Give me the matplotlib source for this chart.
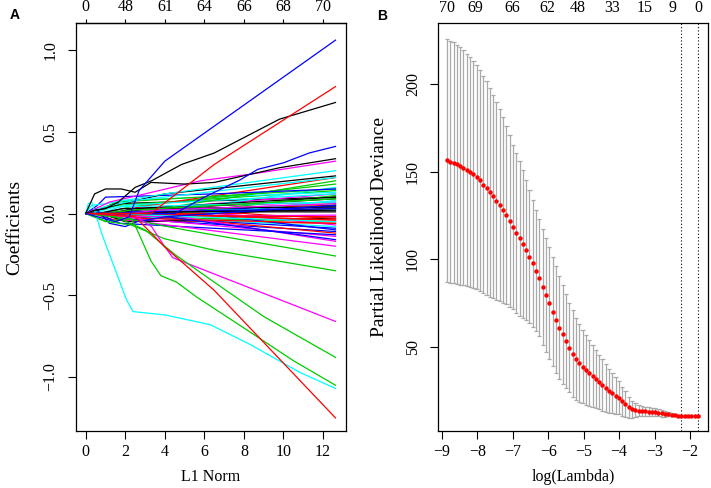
import matplotlib.pyplot as plt

# ============ Palette (R default) ============
R_COLS = {'black': '#000000', 'red': '#FF0000', 'green': '#00CD00',
          'blue': '#0000FF', 'cyan': '#00FFFF', 'magenta': '#FF00FF'}
CYCLE = ['black', 'red', 'green', 'blue', 'cyan', 'magenta']

# ============ Panel A data: coefficient paths ============
l1_max = 12.63
l1_ticks = [0, 2, 4, 6, 8, 10, 12]
df_labels = ['0', '48', '61', '64', '66', '68', '70']

# prominent paths: knots (L1 norm, coefficient)
blue_top_x = [0, 1.5, 2.2, 2.7, 4.0, 12.63]
blue_top_y = [0, -0.05, -0.02, 0.14, 0.32, 1.06]
red_top_x = [0, 3.3, 6.5, 12.63]
red_top_y = [0, 0.0, 0.30, 0.776]
black_top_x = [0, 0.45, 1.0, 1.65, 2.5, 3.33, 4.85, 6.5, 9.8, 12.63]
black_top_y = [0, 0.02, 0.03, 0.07, 0.16, 0.20, 0.30, 0.37, 0.577, 0.679]
black_mid_x = [0, 0.45, 1.0, 1.8, 2.5, 3.3, 5.0, 6.5, 9.8, 12.63]
black_mid_y = [0, 0.12, 0.15, 0.15, 0.13, 0.19, 0.18, 0.19, 0.28, 0.335]
blue_mid_x = [0, 4.5, 6.0, 7.8, 8.7, 10.0, 11.3, 12.63]
blue_mid_y = [0, 0, 0.10, 0.205, 0.27, 0.31, 0.37, 0.41]
magenta_pos_x = [0, 1.2, 3.0, 5.8, 8.3, 12.63]
magenta_pos_y = [0, 0.07, 0.12, 0.20, 0.24, 0.32]
cyan_pos_x = [0, 0.3, 1.0, 4.0, 12.63]
cyan_pos_y = [0, 0.05, 0.06, 0.12, 0.262]
black_low_x = [0, 1.5, 4.0, 12.63]
black_low_y = [0, 0.05, 0.12, 0.23]
blue_early_x = [0, 0.6, 1.0, 6.5, 12.63]
blue_early_y = [0, 0.05, 0.10, 0.12, 0.15]
blue_dip_x = [0, 0.5, 1.2, 2.0, 2.6, 4.0, 12.63]
blue_dip_y = [0, 0.03, -0.06, -0.08, -0.05, -0.02, 0.05]
cyan_neg_x = [0, 0.13, 0.3, 0.47, 0.8, 2.07, 2.4, 4.0, 6.3, 8.3, 10.8, 12.63]
cyan_neg_y = [0, 0.06, 0.07, 0.01, -0.12, -0.53, -0.60, -0.62, -0.68, -0.80, -0.97, -1.07]
green_steep_x = [0, 1.0, 2.3, 2.6, 3.3, 3.8, 4.6, 5.6, 8.0, 10.5, 12.63]
green_steep_y = [0, -0.05, -0.03, -0.10, -0.29, -0.38, -0.42, -0.51, -0.70, -0.90, -1.05]
green_mid_x = [0, 1.1, 2.3, 4.0, 6.5, 12.63]
green_mid_y = [0, -0.05, -0.07, -0.155, -0.225, -0.35]
green_low_x = [0, 1.5, 3.0, 4.5, 6.5, 9.0, 12.63]
green_low_y = [0, -0.02, -0.10, -0.25, -0.42, -0.63, -0.88]
green_small_x = [0, 2.0, 5.0, 12.63]
green_small_y = [0, -0.03, -0.10, -0.26]
magenta_neg_x = [0, 2.5, 3.33, 3.9, 4.4, 6.5, 12.63]
magenta_neg_y = [0, -0.02, -0.08, -0.185, -0.27, -0.37, -0.66]
red_neg_x = [0, 2.5, 4.0, 6.5, 12.63]
red_neg_y = [0, -0.02, -0.205, -0.47, -1.25]
cyan_upper_x = [0, 0.9, 2.5, 12.63]
cyan_upper_y = [0, 0.04, 0.08, 0.22]

# many small paths: L1 norm where they leave zero, early value, final value
small_enter = [0.2, 0.3, 0.4, 0.5, 0.6, 0.7, 0.8, 0.9, 1.0, 1.1, 1.2, 1.3, 1.4, 1.5,
               1.6, 1.8, 2.0, 2.2, 2.4, 2.6, 2.8, 3.0, 3.3, 3.6, 4.0, 4.4, 4.8, 5.2,
               5.8, 6.5, 7.2, 8.0, 0.35, 0.55, 0.75, 0.95, 1.25, 1.7, 2.1, 2.9,
               0.25, 0.45, 0.65, 0.85, 1.05, 1.35, 1.9, 2.3, 3.1, 3.9]
small_early = [0.06, -0.04, 0.05, -0.03, 0.08, 0.03, -0.05, 0.02, 0.04, -0.02, 0.03,
               -0.03, 0.02, 0.04, -0.02, 0.02, -0.02, 0.03, 0.01, -0.02, 0.02, -0.01,
               0.02, -0.02, 0.01, -0.01, 0.02, -0.01, 0.01, -0.01, 0.01, -0.01, 0.07,
               -0.06, 0.05, -0.04, 0.03, -0.03, 0.02, -0.02,
               0.04, -0.02, 0.03, -0.01, 0.02, 0.01, -0.01, 0.02, 0.01, -0.01]
small_end = [0.10, -0.06, 0.14, -0.11, 0.13, 0.07, -0.03, 0.05, 0.18, -0.09, 0.02,
             -0.14, 0.09, 0.22, -0.05, 0.04, -0.08, 0.12, 0.01, -0.12, 0.06, -0.02,
             0.16, -0.17, 0.03, -0.04, 0.11, -0.10, 0.08, -0.07, 0.05, -0.03, 0.15,
             -0.13, 0.12, -0.20, 0.10, -0.06, 0.20, -0.16,
             0.07, -0.01, 0.04, -0.02, 0.09, 0.03, -0.05, 0.06, 0.02, -0.04]

main_paths = [
    ('green', green_small_x, green_small_y), ('blue', blue_early_x, blue_early_y),
    ('black', black_low_x, black_low_y), ('cyan', cyan_pos_x, cyan_pos_y),
    ('cyan', cyan_upper_x, cyan_upper_y),
    ('blue', blue_dip_x, blue_dip_y), ('magenta', magenta_pos_x, magenta_pos_y),
    ('green', green_mid_x, green_mid_y), ('magenta', magenta_neg_x, magenta_neg_y),
    ('green', green_low_x, green_low_y), ('green', green_steep_x, green_steep_y),
    ('cyan', cyan_neg_x, cyan_neg_y), ('red', red_neg_x, red_neg_y),
    ('black', black_mid_x, black_mid_y), ('blue', blue_mid_x, blue_mid_y),
    ('black', black_top_x, black_top_y), ('red', red_top_x, red_top_y),
    ('blue', blue_top_x, blue_top_y),
]

# ============ Panel B data: cross-validation curve ============
log_lambda = [-8.86, -8.77, -8.67, -8.58, -8.49, -8.39, -8.30, -8.21, -8.11, -8.02,
              -7.93, -7.83, -7.74, -7.65, -7.55, -7.46, -7.37, -7.27, -7.18, -7.09,
              -6.99, -6.90, -6.81, -6.71, -6.62, -6.53, -6.43, -6.34, -6.25, -6.15,
              -6.06, -5.97, -5.87, -5.78, -5.69, -5.59, -5.50, -5.41, -5.31, -5.22,
              -5.13, -5.03, -4.94, -4.85, -4.75, -4.66, -4.57, -4.47, -4.38, -4.29,
              -4.19, -4.10, -4.01, -3.92, -3.82, -3.73, -3.64, -3.54, -3.45, -3.36,
              -3.26, -3.17, -3.08, -2.98, -2.89, -2.80, -2.70, -2.61, -2.52, -2.42,
              -2.33, -2.24, -2.14, -2.05, -1.96, -1.86, -1.77]
cv_mean = [156.5, 155.7, 155.0, 154.2, 153.3, 152.3, 151.1, 149.8, 148.5, 146.8,
           145.0, 142.7, 140.5, 138.2, 135.9, 133.4, 131.0, 128.1, 125.3, 121.8,
           118.4, 115.1, 111.9, 108.7, 105.3, 101.6, 97.8, 93.6, 89.6, 84.3,
           79.7, 74.9, 70.2, 65.6,
           61.0, 57.2, 53.2, 49.6, 46.2, 43.0, 40.7, 38.8, 36.9, 35.1,
           33.4, 31.7, 30.0, 28.3, 26.6, 25.0, 23.5, 22.2, 20.9, 19.1,
           17.4, 15.5, 14.4, 13.8, 13.6, 13.4, 13.2, 13.0, 12.9, 12.7,
           12.5, 12.1, 11.9, 11.7, 11.3, 11.0, 10.8, 10.5, 10.6, 10.6,
           10.6, 10.7, 10.7]
cv_sd = [69.5, 69.2, 68.8, 68.3, 67.7, 67.0, 66.3, 65.5, 64.7, 63.9, 63.0, 62.0, 61.0,
         59.5, 58.0, 56.4, 54.7, 53.0, 51.0, 49.0, 47.0,
         45.6, 44.0, 42.0, 40.1, 38.1, 36.2, 34.7, 33.6, 33.0, 32.4, 32.0, 31.2, 30.3, 29.5,
         28.2, 26.9, 25.6, 24.6, 23.5, 22.2, 21.0, 20.0, 18.9, 17.7, 16.6, 15.6, 14.6,
         13.6, 12.6, 11.5, 10.4, 9.4, 8.3, 7.2, 6.1, 5.0, 4.0, 3.2,
         2.7, 2.7, 2.6, 2.4, 2.2, 2.0, 1.9, 1.7, 1.3, 0.9, 0.6, 0.4, 0.3, 0.3,
         0.2, 0.2, 0.2, 0.2]
lambda_min = -2.24
lambda_1se = -1.77
nz_pos = [-8.86, -8.07, -7.02, -6.03, -5.16, -4.20, -3.29, -2.48, -1.77]
nz_labels = ['70', '69', '66', '62', '48', '33', '15', '9', '0']

# ============ Global Font ============
plt.rcParams['font.family'] = 'Liberation Serif'
plt.rcParams['font.size'] = 11.5
plt.rcParams['axes.linewidth'] = 0.9
YLAB_SIZE = 14

fig = plt.figure(figsize=(7.11, 4.88), dpi=100)
axA = fig.add_axes([0.1065, 0.1168, 0.3801, 0.8361])
axB = fig.add_axes([0.6165, 0.1168, 0.3789, 0.8361])


def style_axis(ax):
    ax.tick_params(direction='out', length=5.5, width=0.8, colors='black')
    ax.tick_params(axis='x', pad=3.5)
    ax.tick_params(axis='y', pad=7)
    for lab in ax.get_yticklabels():
        lab.set_rotation(90)
        lab.set_va('center')


# ============ Panel A ============
for k in range(len(small_end)):
    e = small_enter[k]
    axA.plot([0, e, e + 1.2, l1_max], [0, 0, small_early[k], small_end[k]],
             color=R_COLS[CYCLE[k % 6]], lw=0.9)
for col, xs, ys in main_paths:
    axA.plot(xs, ys, color=R_COLS[col], lw=0.9)

axA.set_xlim(-0.505, 13.16)
axA.set_ylim(-1.33, 1.165)
axA.set_xticks(l1_ticks)
axA.set_yticks([-1.0, -0.5, 0.0, 0.5, 1.0])
axA.set_yticklabels(['\u22121.0', '\u22120.5', '0.0', '0.5', '1.0'])
style_axis(axA)
topA = axA.secondary_xaxis('top')
topA.set_xticks(l1_ticks, labels=df_labels)
topA.tick_params(direction='out', length=3, width=0.8, pad=2.5)
axA.set_xlabel('L1 Norm')
axA.xaxis.set_label_coords(0.5, -0.1127)
axA.xaxis.label.set_va('center')
axA.set_ylabel('Coefficients', fontsize=YLAB_SIZE)
axA.yaxis.set_label_coords(-0.225, 0.5)
axA.yaxis.label.set_va('center')

# ============ Panel B ============
upper = [m + s for m, s in zip(cv_mean, cv_sd)]
lower = [m - s for m, s in zip(cv_mean, cv_sd)]
bar_col = '#A9A9A9'
axB.vlines(log_lambda, lower, upper, color=bar_col, lw=0.9)
capw = 0.06
axB.hlines(upper, [x - capw for x in log_lambda], [x + capw for x in log_lambda],
           color=bar_col, lw=0.9)
axB.hlines(lower, [x - capw for x in log_lambda], [x + capw for x in log_lambda],
           color=bar_col, lw=0.9)
axB.plot(log_lambda, cv_mean, 'o', color='#FF0000', ms=3.2, mec='none', zorder=3)
for v in (lambda_min, lambda_1se):
    axB.axvline(v, color='black', ls=(0, (1, 2)), lw=0.8)

axB.set_xlim(-9.10, -1.50)
axB.set_ylim(2.0, 234.9)
axB.set_xticks([-9, -8, -7, -6, -5, -4, -3, -2])
axB.set_xticklabels(['\u22129', '\u22128', '\u22127', '\u22126', '\u22125',
                     '\u22124', '\u22123', '\u22122'])
axB.set_yticks([50, 100, 150, 200])
style_axis(axB)
topB = axB.secondary_xaxis('top')
topB.set_xticks(nz_pos, labels=nz_labels)
topB.tick_params(length=0, pad=5)
topB.spines['top'].set_visible(False)
axB.set_xlabel('log(Lambda)')
axB.xaxis.set_label_coords(0.5, -0.1127)
axB.xaxis.label.set_va('center')
axB.set_ylabel('Partial Likelihood Deviance', fontsize=YLAB_SIZE)
axB.yaxis.set_label_coords(-0.218, 0.5)
axB.yaxis.label.set_va('center')

# ============ Panel letters ============
fig.text(15 / 711, 1 - 15 / 488, 'A', family='Liberation Sans', weight='bold',
         fontsize=10, ha='center', va='center')
fig.text(382 / 711, 1 - 15.5 / 488, 'B', family='Liberation Sans', weight='bold',
         fontsize=10, ha='center', va='center')

fig.savefig('out.png', dpi=100)
